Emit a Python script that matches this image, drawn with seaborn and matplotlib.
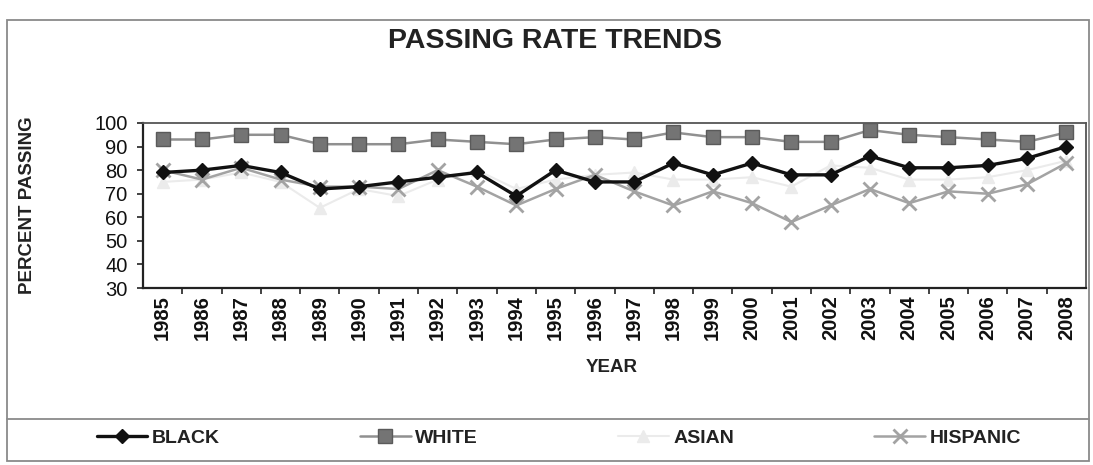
import matplotlib
matplotlib.use("Agg")
import matplotlib.pyplot as plt
import seaborn as sns
import pandas as pd
from matplotlib.lines import Line2D
from matplotlib.patches import Rectangle

years = [1985, 1986, 1987, 1988, 1989, 1990, 1991, 1992, 1993, 1994, 1995, 1996,
         1997, 1998, 1999, 2000, 2001, 2002, 2003, 2004, 2005, 2006, 2007, 2008]
black = [79, 80, 82, 79, 72, 73, 75, 77, 79, 69, 80, 75, 75, 83, 78, 83, 78, 78, 86, 81, 81, 82, 85, 90]
white = [93, 93, 95, 95, 91, 91, 91, 93, 92, 91, 93, 94, 93, 96, 94, 94, 92, 92, 97, 95, 94, 93, 92, 96]
asian = [75, 76, 79, 75, 64, 72, 69, 76, 80, 72, 76, 78, 79, 76, 76, 77, 73, 82, 81, 76, 76, 77, 80, 84]
hispanic = [80, 76, 81, 76, 73, 73, 72, 80, 73, 65, 72, 78, 71, 65, 71, 66, 58, 65, 72, 66, 71, 70, 74, 83]
series_names = ["BLACK", "WHITE", "ASIAN", "HISPANIC"]
y_ticks = [30, 40, 50, 60, 70, 80, 90, 100]

sns.set_theme(style="white")
plt.rcParams['font.family'] = ['Liberation Sans', 'DejaVu Sans']

W, H = 1093, 465
fig = plt.figure(figsize=(W / 100, H / 100), dpi=100)
fig.patch.set_facecolor("white")

def fx(px):
    return px / W

def fy(py):
    return 1 - py / H

# outer frame and legend separator
fig.patches.append(Rectangle((fx(7), fy(461)), fx(1089) - fx(7), fy(20) - fy(461),
                             transform=fig.transFigure, fill=False, edgecolor="#8a8a8a", lw=1.3))
fig.lines.append(Line2D([fx(7), fx(1089)], [fy(419), fy(419)], transform=fig.transFigure,
                        color="#8a8a8a", lw=1.3))

left, right, top, bottom = 143, 1086, 123, 288
ax = fig.add_axes([fx(left), fy(bottom), fx(right) - fx(left), fy(top) - fy(bottom)])
ax.set_facecolor("white")

styles = {
    "BLACK": dict(color="#111111", marker="D", markersize=7, lw=2.4, mfc="#111111", mec="#111111", mew=1),
    "WHITE": dict(color="#909090", marker="s", markersize=10, lw=1.8, mfc="#747474", mec="#5a5a5a", mew=1),
    "ASIAN": dict(color="#ebebeb", marker="^", markersize=8, lw=1.5, mfc="#ebebeb", mec="#ebebeb", mew=1),
    "HISPANIC": dict(color="#a3a3a3", marker="x", markersize=10, lw=1.8, mfc="#a3a3a3", mec="#a3a3a3", mew=2),
}
data = {"BLACK": black, "WHITE": white, "ASIAN": asian, "HISPANIC": hispanic}
order = ["ASIAN", "HISPANIC", "WHITE", "BLACK"]
zs = {"ASIAN": 2, "HISPANIC": 3, "WHITE": 4, "BLACK": 5}
for name in order:
    st = styles[name]
    df = pd.DataFrame({"year": years, "value": data[name]})
    sns.lineplot(data=df, x="year", y="value", ax=ax, color=st["color"], lw=st["lw"],
                 marker=st["marker"], markersize=st["markersize"], markerfacecolor=st["mfc"],
                 markeredgecolor=st["mec"], markeredgewidth=st["mew"], zorder=zs[name],
                 legend=False)

ax.set_xlim(years[0] - 0.5, years[-1] + 0.5)
ax.set_ylim(30, 100)
ax.set_yticks(y_ticks)
ax.set_yticklabels([str(t) for t in y_ticks], fontsize=14.5, color="#111111")
ax.set_xticks(years)
ax.set_xticklabels([str(y) for y in years], rotation=90, fontsize=14.5, fontweight="bold",
                   color="#111111", va="top")
ax.set_xticks([y + 0.5 for y in years[:-1]], minor=True)
ax.tick_params(axis="y", which="major", direction="out", length=4, width=1.2, color="#222222",
               pad=7, left=True)
ax.tick_params(axis="x", which="major", length=0, pad=5, bottom=True)
ax.tick_params(axis="x", which="minor", direction="out", length=4, width=1.2, color="#222222",
               bottom=True)
ax.set_xlabel("")
ax.set_ylabel("")
for side in ["left", "bottom"]:
    ax.spines[side].set_color("#222222")
    ax.spines[side].set_linewidth(1.6)
for side in ["top", "right"]:
    ax.spines[side].set_color("#555555")
    ax.spines[side].set_linewidth(1.3)
ax.grid(False)

fig.text(fx(555), fy(41), "PASSING RATE TRENDS", ha="center", va="center",
         fontsize=20.5, fontweight="bold", color="#222222")
fig.text(fx(612), fy(367), "YEAR", ha="center", va="center", fontsize=13.5,
         fontweight="bold", color="#222222")
fig.text(fx(28), fy(205), "PERCENT PASSING", ha="center", va="center", rotation=90,
         fontsize=13.5, fontweight="bold", color="#222222")

handles = []
for name in series_names:
    st = styles[name]
    handles.append(Line2D([0], [0], color=st["color"], lw=st["lw"], marker=st["marker"],
                          markersize=st["markersize"], markerfacecolor=st["mfc"],
                          markeredgecolor=st["mec"], markeredgewidth=st["mew"]))
leg = fig.legend(handles, series_names, loc="center", bbox_to_anchor=(fx(559), fy(438)),
                 ncol=4, frameon=False, handlelength=2.6, handletextpad=0.25,
                 columnspacing=7.2, prop={"size": 14, "weight": "bold"})
for t in leg.get_texts():
    t.set_color("#222222")

fig.savefig("out.png", dpi=100, facecolor="white")
